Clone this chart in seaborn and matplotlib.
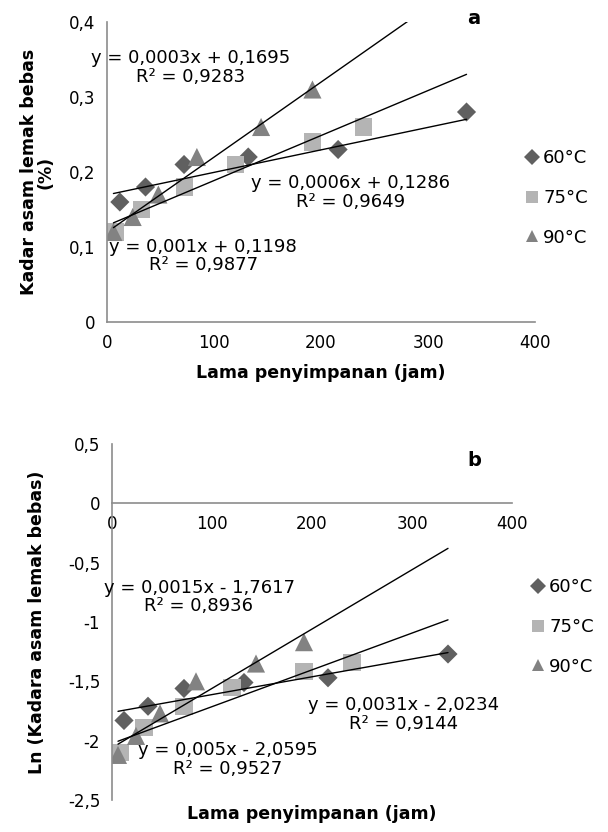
import numpy as np
import pandas as pd
import matplotlib
matplotlib.use("Agg")
import matplotlib.pyplot as plt
import seaborn as sns
from matplotlib.lines import Line2D

# series
suhu = ["60°C", "75°C", "90°C"]
jam_60 = [12, 36, 72, 132, 216, 336]
jam_75 = [8, 32, 72, 120, 192, 240]
jam_90 = [6, 24, 48, 84, 144, 192]
ffa_60 = [0.16, 0.18, 0.21, 0.22, 0.23, 0.28]
ffa_75 = [0.12, 0.15, 0.18, 0.21, 0.24, 0.26]
ffa_90 = [0.12, 0.14, 0.17, 0.22, 0.26, 0.31]
ln_60 = [-1.83, -1.71, -1.56, -1.51, -1.47, -1.27]
ln_75 = [-2.10, -1.89, -1.71, -1.55, -1.42, -1.34]
ln_90 = [-2.12, -1.96, -1.77, -1.50, -1.35, -1.17]

# trendline equations shown on the chart
slope_a = [0.0003, 0.0006, 0.001]
icpt_a = [0.1695, 0.1286, 0.1198]
slope_b = [0.0015, 0.0031, 0.005]
icpt_b = [-1.7617, -2.0234, -2.0595]
trend_x = [6, 336]

eq_a = ["y = 0,0003x + 0,1695\nR² = 0,9283",
        "y = 0,0006x + 0,1286\nR² = 0,9649",
        "y = 0,001x + 0,1198\nR² = 0,9877"]
eq_b = ["y = 0,0015x - 1,7617\nR² = 0,8936",
        "y = 0,0031x - 2,0234\nR² = 0,9144",
        "y = 0,005x - 2,0595\nR² = 0,9527"]

xticks = [0, 100, 200, 300, 400]
yticks_a = [0, 0.1, 0.2, 0.3, 0.4]
ylabels_a = ["0", "0,1", "0,2", "0,3", "0,4"]
yticks_b = [0.5, 0, -0.5, -1, -1.5, -2, -2.5]
ylabels_b = ["0,5", "0", "-0,5", "-1", "-1,5", "-2", "-2,5"]

# build long tables
df = pd.DataFrame({
    "jam": jam_60 + jam_75 + jam_90,
    "ffa": ffa_60 + ffa_75 + ffa_90,
    "ln": ln_60 + ln_75 + ln_90,
    "suhu": [suhu[0]] * 6 + [suhu[1]] * 6 + [suhu[2]] * 6,
})
rows = []
for i, s in enumerate(suhu):
    for x in trend_x:
        rows.append({"suhu": s, "jam": x,
                     "ffa": slope_a[i] * x + icpt_a[i],
                     "ln": slope_b[i] * x + icpt_b[i]})
trend = pd.DataFrame(rows)

sns.set_style("white")
plt.rcParams["font.family"] = ["DejaVu Sans"]
plt.rcParams["text.color"] = "black"
plt.rcParams["axes.labelcolor"] = "black"

colors = {"60°C": "#606060", "75°C": "#b4b4b4", "90°C": "#828282"}
markers = {"60°C": "D", "75°C": "s", "90°C": "^"}
sizes = {"60°C": 95, "75°C": 150, "90°C": 170}
axis_col = "#8c8c8c"

fig = plt.figure(figsize=(6.08, 8.32), dpi=100)
ax1 = fig.add_axes([107 / 608, 1 - 322 / 832, 428 / 608, 300 / 832])
ax2 = fig.add_axes([112 / 608, 1 - 800 / 832, 400 / 608, 356 / 832])


def draw(ax, ycol):
    for s in suhu:
        sub = df[df["suhu"] == s]
        sns.scatterplot(data=sub, x="jam", y=ycol, ax=ax, marker=markers[s],
                        color=colors[s], s=sizes[s], edgecolor="none",
                        linewidth=0, legend=False, zorder=2)
    sns.lineplot(data=trend, x="jam", y=ycol, units="suhu", estimator=None,
                 color="black", lw=1, ax=ax, legend=False, zorder=3)
    for sp in ["top", "right"]:
        ax.spines[sp].set_visible(False)
    for sp in ["left", "bottom"]:
        ax.spines[sp].set_color(axis_col)
        ax.spines[sp].set_linewidth(1.2)
    ax.tick_params(direction="out", length=5, width=1.2, color=axis_col,
                   labelsize=12, labelcolor="black")
    ax.set_xlim(0, 400)
    ax.set_xticks(xticks)
    ax.set_xticklabels([str(t) for t in xticks])


# ---- chart a
draw(ax1, "ffa")
ax1.set_ylim(0, 0.4)
ax1.set_yticks(yticks_a)
ax1.set_yticklabels(ylabels_a)
ax1.set_xlabel("Lama penyimpanan (jam)", fontsize=12.5, fontweight="bold")
ax1.xaxis.set_label_coords(0.5, -0.14)
ax1.set_ylabel("Kadar asam lemak bebas\n(%)", fontsize=12.5,
               fontweight="bold", linespacing=0.9)
ax1.yaxis.set_label_coords(-0.122, 0.5)
pos_a = [(78.5, 0.339), (228, 0.173), (90, 0.088)]
for (tx, ty), t in zip(pos_a, eq_a):
    ax1.text(tx, ty, t, ha="center", va="center", fontsize=13,
             multialignment="center", linespacing=1.05, zorder=4)

# ---- chart b
draw(ax2, "ln")
ax2.set_ylim(-2.5, 0.5)
ax2.set_yticks(yticks_b)
ax2.set_yticklabels(ylabels_b)
ax2.spines["bottom"].set_position(("data", 0))
ax2.set_xlabel("Lama penyimpanan (jam)", fontsize=12.5, fontweight="bold")
ax2.xaxis.set_label_coords(0.5, -0.015)
ax2.set_ylabel("Ln (Kadara asam lemak bebas)", fontsize=12.5,
               fontweight="bold")
ax2.yaxis.set_label_coords(-0.165, 0.5)
pos_b = [(87, -0.79), (292, -1.78), (115.5, -2.16)]
for (tx, ty), t in zip(pos_b, eq_b):
    ax2.text(tx, ty, t, ha="center", va="center", fontsize=13,
             multialignment="center", linespacing=1.05, zorder=4)

# legends
handles = [Line2D([], [], ls="none", marker=markers[s], color=colors[s],
                  markeredgewidth=0, markersize=8 if s == "60°C" else 9)
           for s in suhu]
for ax, yc in [(ax1, 1 - 198 / 832), (ax2, 1 - 627 / 832)]:
    x0 = 516 / 608 if ax is ax1 else 522 / 608
    ax.legend(handles, suhu, loc="center left", bbox_to_anchor=(x0, yc),
              bbox_transform=fig.transFigure, frameon=False, fontsize=13,
              handlelength=0.8, handletextpad=0.2, labelspacing=1.2,
              borderpad=0)

fig.text(474 / 608, 1 - 18 / 832, "a", fontsize=14, fontweight="bold",
         ha="center", va="center")
fig.text(474 / 608, 1 - 460 / 832, "b", fontsize=14, fontweight="bold",
         ha="center", va="center")

fig.savefig("out.png", dpi=100)
